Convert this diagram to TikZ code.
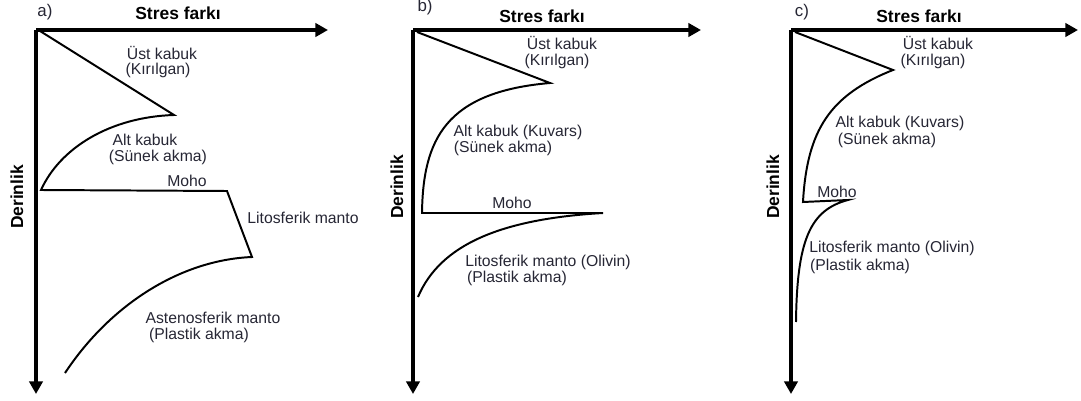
\documentclass[tikz,border=0pt]{standalone}
\usepackage{fontspec}
\setmainfont{Liberation Sans}
\usetikzlibrary{arrows.meta}
\definecolor{labelcol}{RGB}{38,38,52}
\tikzset{
    axis/.style={line width=2.2pt, -{Triangle[length=9pt,width=9.5pt]}},
    curve/.style={line width=1.4pt},
    lbl/.style={font=\fontsize{11.2}{13}\selectfont, text=labelcol, inner sep=0pt},
    title/.style={font=\fontsize{12.4}{14}\selectfont\bfseries, inner sep=0pt}
}

\begin{document}
\begin{tikzpicture}[x=0.025cm, y=-0.025cm]
    \useasboundingbox (0,0) rectangle (1081,401);
    % a) panel
    \coordinate (ao) at (36,30);
    \draw[axis] (ao) -- (328,30) coordinate (ax);
    \draw[axis] (ao) -- (36,394) coordinate (ay);
    \node[lbl, font=\fontsize{12}{14}\selectfont] (atag) at (45,12) {a)};
    \node[title] (astres) at (178,13) {Stres farkı};
    \node[title, rotate=90] (ader) at (17,197) {Derinlik};
    \coordinate (a1) at (40,31);
    \coordinate (a2) at (174,115);
    \coordinate (a3) at (41,190);
    \coordinate (a4) at (227,191);
    \coordinate (a5) at (252,257);
    \coordinate (a6) at (65,373);
    \draw[curve] (a1) -- (a2) .. controls (110,117) and (60,148) .. (a3) -- (a4) -- (a5)
        .. controls (180,260) and (110,305) .. (a6);
    \node[lbl] (aust) at (162,53) {Üst kabuk};
    \node[lbl] (akir) at (158,70) {(Kırılgan)};
    \node[lbl] (aalt) at (145,140) {Alt kabuk};
    \node[lbl] (asun) at (158,157) {(Sünek akma)};
    \node[lbl] (amoho) at (187,181) {Moho};
    \node[lbl] (alit) at (303,218) {Litosferik manto};
    \node[lbl] (aast) at (213,318) {Astenosferik manto};
    \node[lbl] (apla) at (199,335) {(Plastik akma)};
    % b) panel
    \coordinate (bo) at (413,30);
    \draw[axis] (bo) -- (701,30) coordinate (bx);
    \draw[axis] (bo) -- (413,394) coordinate (by);
    \node[lbl, font=\fontsize{12}{14}\selectfont] (btag) at (425,7) {b)};
    \node[title] (bstres) at (542,16) {Stres farkı};
    \node[title, rotate=90] (bder) at (397,187) {Derinlik};
    \coordinate (b1) at (417,32);
    \coordinate (b2) at (550,83);
    \coordinate (b3) at (422,213);
    \coordinate (b4) at (603,213);
    \coordinate (b5) at (418,297);
    \draw[curve] (b1) -- (b2) .. controls (445,92) and (423,140) .. (b3) -- (b4)
        .. controls (500,219) and (440,245) .. (b5);
    \node[lbl] (bust) at (562,43) {Üst kabuk};
    \node[lbl] (bkir) at (557,61) {(Kırılgan)};
    \node[lbl] (balt) at (518,132) {Alt kabuk (Kuvars)};
    \node[lbl] (bsun) at (503,148) {(Sünek akma)};
    \node[lbl] (bmoho) at (512,203) {Moho};
    \node[lbl] (blit) at (548,262) {Litosferik manto (Olivin)};
    \node[lbl] (bpla) at (517,278) {(Plastik akma)};
    % c) panel
    \coordinate (co) at (791,30);
    \draw[axis] (co) -- (1078,30) coordinate (cx);
    \draw[axis] (co) -- (791,394) coordinate (cy);
    \node[lbl, font=\fontsize{12}{14}\selectfont] (ctag) at (802,12) {c)};
    \node[title] (cstres) at (919,16) {Stres farkı};
    \node[title, rotate=90] (cder) at (773,187) {Derinlik};
    \coordinate (c1) at (795,32);
    \coordinate (c2) at (893,70);
    \coordinate (c3) at (803,202);
    \coordinate (c4) at (848,200);
    \coordinate (c5) at (796,322);
    \draw[curve] (c1) -- (c2) .. controls (830,95) and (807,130) .. (c3) -- (c4)
        .. controls (810,210) and (797,240) .. (c5);
    \node[lbl] (cust) at (938,43) {Üst kabuk};
    \node[lbl] (ckir) at (933,61) {(Kırılgan)};
    \node[lbl] (calt) at (900,123) {Alt kabuk (Kuvars)};
    \node[lbl] (csun) at (887,140) {(Sünek akma)};
    \node[lbl] (cmoho) at (837,192) {Moho};
    \node[lbl] (clit) at (892,248) {Litosferik manto (Olivin)};
    \node[lbl] (cpla) at (860,266) {(Plastik akma)};
\end{tikzpicture}
\end{document}
